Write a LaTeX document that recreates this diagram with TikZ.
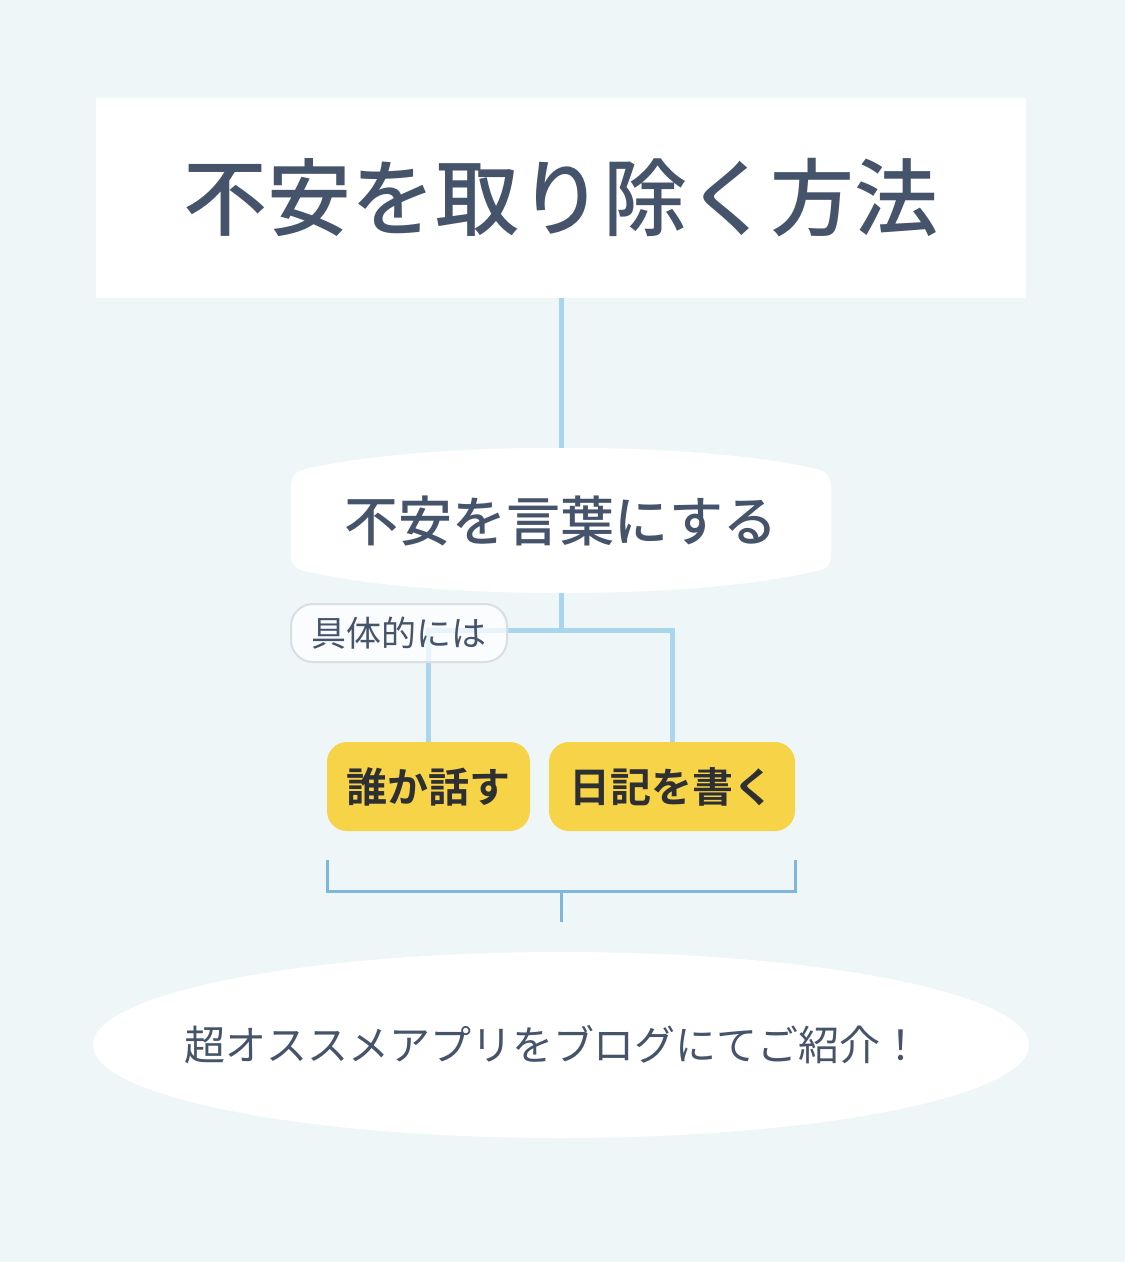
\documentclass[tikz,border=0pt]{standalone}
\usepackage{fontspec}
\setmainfont{Noto Sans CJK JP}
\newfontfamily\cjkb{Noto Sans CJK JP Bold}
\newfontfamily\cjkm{Noto Sans CJK JP Medium}
\newfontfamily\cjkr{Noto Sans CJK JP}
\definecolor{bgc}{HTML}{EEF6F8}
\definecolor{txt}{HTML}{46546B}
\definecolor{linec}{HTML}{A9D6EC}
\definecolor{yel}{HTML}{F7D447}
\definecolor{dark}{HTML}{2D2F33}
\definecolor{brk}{HTML}{7FB6DC}
\definecolor{lbd}{HTML}{D9DEE1}
\tikzset{
  conn/.style={draw=linec, line width=5pt},
  brack/.style={draw=brk, line width=3pt},
  ybox/.style={fill=yel, rounded corners=20pt, inner sep=0pt, text=dark, font=\cjkb\fontsize{41}{45}\selectfont},
}
\begin{document}
\begin{tikzpicture}[x=1pt,y=-1pt]
\useasboundingbox (0,0) rectangle (1125,1262);
\fill[bgc] (0,0) rectangle (1125,1262);
% title
\node[fill=white, minimum width=930pt, minimum height=200pt, inner sep=0pt, text=txt,
      font=\cjkm\fontsize{84}{90}\selectfont] (t) at (561,198) {不安を取り除く方法};
% node 2 shape
\fill[white] (291,490) .. controls (291,474) and (296,471) .. (310,468)
  .. controls (430,441) and (692,441) .. (812,468)
  .. controls (826,471) and (831,474) .. (831,490)
  -- (831,552) .. controls (831,567) and (826,570) .. (812,572)
  .. controls (692,600) and (430,600) .. (310,572)
  .. controls (296,570) and (291,567) .. (291,552) -- cycle;
\node[text=txt, inner sep=0pt, font=\cjkm\fontsize{54}{60}\selectfont] (n2) at (561,521) {不安を言葉にする};
\coordinate (n2top) at (561,448);
\coordinate (n2bot) at (561,593);
\coordinate (j) at (561,630);
% yellow boxes
\node[ybox, minimum width=203pt, minimum height=89pt] (b1) at (428.5,786.5) {誰か話す};
\node[ybox, minimum width=246pt, minimum height=89pt] (b2) at (672,786.5) {日記を書く};
% connectors
\draw[conn] (t.south) -- (n2top);
\draw[conn] (n2bot) -- (j);
\draw[conn] (b1.north) |- (j) -| (b2.north);
% label
\node[draw=lbd, line width=2pt, fill=white, fill opacity=0.75, text opacity=1, rounded corners=22pt,
      minimum width=216pt, minimum height=58pt, inner sep=0pt, text=txt,
      font=\cjkr\fontsize{35}{40}\selectfont] (lab) at (399,633) {具体的には};
% bracket
\coordinate (bl) at (327,860);
\coordinate (br) at (795,860);
\coordinate (bm) at (561,891);
\coordinate (bs) at (561,922);
\draw[brack] (bl) |- (bm) -| (br);
\draw[brack] (bm) -- (bs);
% ellipse
\fill[white] (561,1045) ellipse [x radius=468, y radius=93];
\node[text=txt, inner sep=0pt, font=\cjkr\fontsize{41}{45}\selectfont] (e) at (553,1045) {超オススメアプリをブログにてご紹介！};
\end{tikzpicture}
\end{document}
